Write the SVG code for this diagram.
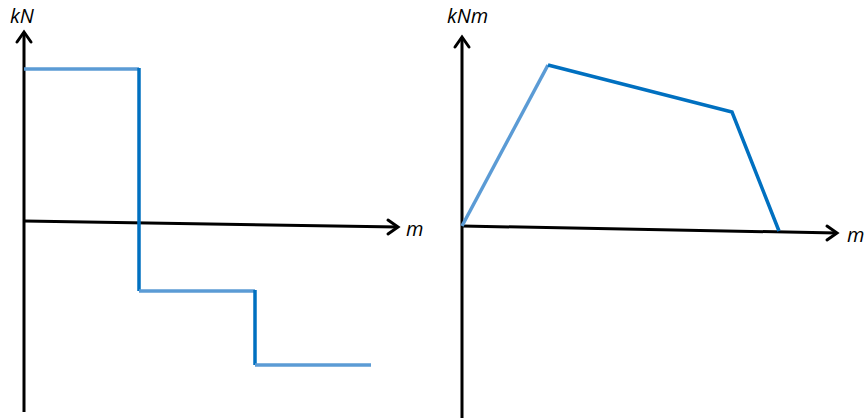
<svg xmlns="http://www.w3.org/2000/svg" width="864" height="419" viewBox="0 0 864 419">
<style>
.axis{stroke:#000;stroke-width:3;fill:none}
.head{stroke:#000;stroke-width:3;fill:none;stroke-linecap:round;stroke-linejoin:miter}
.lt{stroke:#5B9BD5;stroke-width:3.5;fill:none}
.dk{stroke:#0070C0;stroke-width:3.5;fill:none}
.lbl{font-family:"Open Sans","Liberation Sans",sans-serif;font-style:italic;font-size:20px;fill:#000}
</style>
<rect width="864" height="419" fill="#fff"/>
<g id="left-axes">
<line class="axis" x1="24" y1="412" x2="24" y2="32"/>
<polyline class="head" points="17,42 24,32 31,42"/>
<line class="axis" x1="24" y1="221" x2="398" y2="227"/>
<polyline class="head" points="388,220 398,227 388,234"/>
<text class="lbl" x="10" y="23">kN</text>
<text class="lbl" x="406" y="236">m</text>
</g>
<g id="shear">
<line class="lt" x1="24" y1="69" x2="139" y2="69"/>
<line class="dk" x1="139" y1="68" x2="139" y2="291"/>
<line class="lt" x1="139" y1="291" x2="255" y2="291"/>
<line class="dk" x1="255" y1="290" x2="255" y2="365"/>
<line class="lt" x1="255" y1="365" x2="371" y2="365"/>
</g>
<g id="right-axes">
<line class="axis" x1="462" y1="418" x2="462" y2="37"/>
<polyline class="head" points="455,47 462,37 469,47"/>
<line class="axis" x1="462" y1="226" x2="837" y2="233"/>
<polyline class="head" points="827,226 837,233 827,240"/>
<text class="lbl" x="447" y="23">kNm</text>
<text class="lbl" x="847" y="242">m</text>
</g>
<g id="moment">
<line class="lt" x1="462" y1="226" x2="548" y2="65"/>
<polyline class="dk" points="548,65 732,112 779,231"/>
</g>
</svg>
